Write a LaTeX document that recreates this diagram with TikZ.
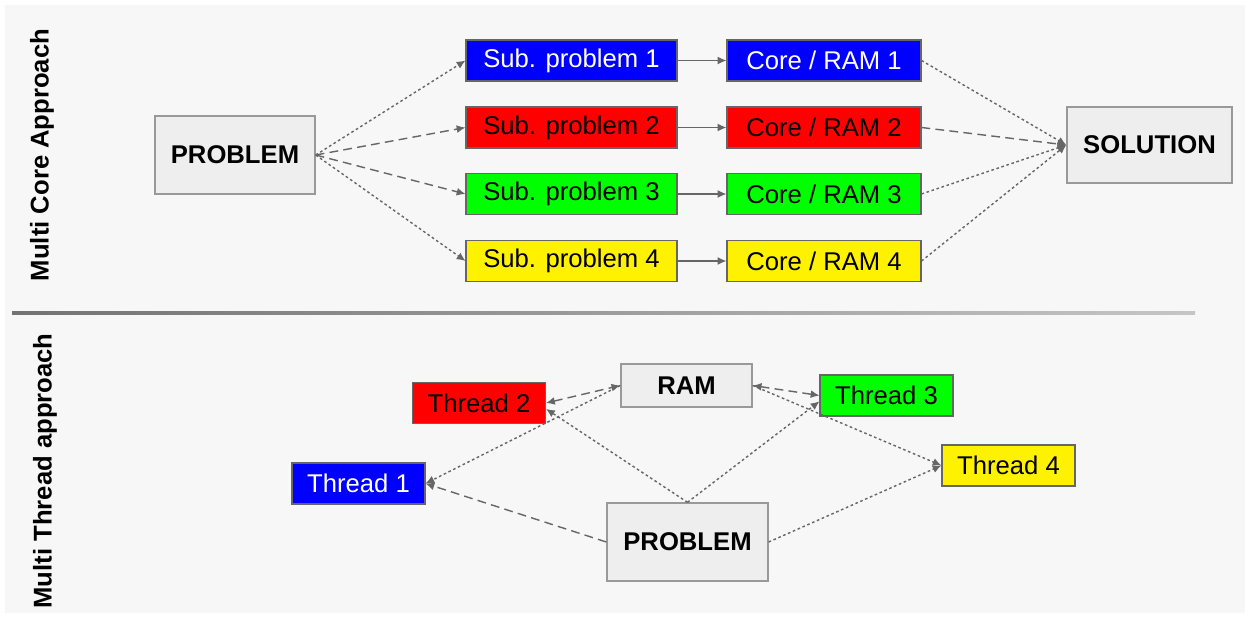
\documentclass[tikz,border=0pt]{standalone}
\usepackage{fontspec}
\setmainfont{Liberation Sans}
\usetikzlibrary{arrows.meta,positioning,shapes}

\definecolor{panelgray}{HTML}{F7F7F7}
\definecolor{boxgray}{HTML}{EEEEEE}
\definecolor{linegray}{HTML}{666666}

\begin{document}
\begin{tikzpicture}[x=0.02cm,y=-0.02cm,
  every node/.style={font=\fontsize{14.6}{17}\selectfont,inner sep=0pt},
  graybox/.style={rectangle,draw=gray!80,fill=boxgray,line width=0.8pt,font=\fontsize{14.6}{17}\selectfont\bfseries},
  colbox/.style={rectangle,draw=linegray,line width=0.6pt,minimum height=0.82cm},
  subbox/.style={colbox,minimum width=4.22cm},
  corebox/.style={colbox,minimum width=3.88cm},
  thrbox/.style={colbox,minimum width=2.66cm},
  link/.style={draw=linegray,line width=0.8pt,-{Latex[length=5pt,width=4.5pt]}},
  dotlink/.style={link,dash pattern=on 1.5pt off 1.5pt},
  dashlink/.style={link,dash pattern=on 5pt off 3pt}]
\useasboundingbox (0,0) rectangle (1245,618);
\fill[panelgray] (5,5) rectangle (1245,613);
\shade[left color=gray!90!black,right color=gray!45] (12,312) rectangle (1195,315);

% multi core part
\node[rotate=90,font=\fontsize{14.6}{17}\selectfont\bfseries] (lblcore) at (42,155) {Multi Core Approach};
\node[graybox,minimum width=3.2cm,minimum height=1.56cm] (prob) at (235,155) {PROBLEM};
\node[graybox,minimum width=3.3cm,minimum height=1.52cm] (sol) at (1149.5,145) {SOLUTION};

\node[subbox,fill=blue,text=white] (sub1) at (571.5,60.5) {Sub. problem 1};
\node[subbox,fill=red] (sub2) at (571.5,127.5) {Sub. problem 2};
\node[subbox,fill=green] (sub3) at (571.5,194) {Sub. problem 3};
\node[subbox,fill=yellow] (sub4) at (571.5,261) {Sub. problem 4};

\node[corebox,fill=blue,text=white] (core1) at (824,60.5) {Core / RAM 1};
\node[corebox,fill=red] (core2) at (824,127.5) {Core / RAM 2};
\node[corebox,fill=green] (core3) at (824,194) {Core / RAM 3};
\node[corebox,fill=yellow] (core4) at (824,261) {Core / RAM 4};

\foreach \i in {1,...,4}
  \draw[link] (sub\i) -- (core\i);
\draw[dotlink] (prob.east) -- (sub1.west);
\draw[dashlink] (prob.east) -- (sub2.west);
\draw[dashlink] (prob.east) -- (sub3.west);
\draw[dotlink] (prob.east) -- (sub4.west);
\draw[dotlink] (core1.east) -- (sol.west);
\draw[dashlink] (core2.east) -- (sol.west);
\draw[dotlink] (core3.east) -- (sol.west);
\draw[dotlink] (core4.east) -- (sol.west);

% multi thread part
\node[rotate=90,font=\fontsize{14.6}{17}\selectfont\bfseries] (lblthread) at (45,471) {Multi Thread approach};
\node[graybox,minimum width=2.62cm,minimum height=0.86cm] (ram) at (686.5,385.5) {RAM};
\node[graybox,minimum width=3.22cm,minimum height=1.56cm] (prob2) at (687.5,542) {PROBLEM};

\node[thrbox,fill=blue,text=white] (t1) at (358.5,483.5) {Thread 1};
\node[thrbox,fill=red] (t2) at (479,403) {Thread 2};
\node[thrbox,fill=green] (t3) at (886.5,395.5) {Thread 3};
\node[thrbox,fill=yellow] (t4) at (1008.5,465.5) {Thread 4};

\draw[dashlink,{Latex[length=5pt,width=4.5pt]}-{Latex[length=5pt,width=4.5pt]}] (t2.east) -- (ram.west);
\draw[dashlink,{Latex[length=5pt,width=4.5pt]}-{Latex[length=5pt,width=4.5pt]}] (ram.east) -- (t3.west);
\draw[dotlink] (ram.west) -- (t1.east);
\draw[dashlink] (prob2.west) -- (t1.east);
\draw[dotlink] (prob2.north) -- (t2.-5);
\draw[dotlink] (prob2.north) -- (t3.185);
\draw[dotlink] (ram.east) -- (t4.west);
\draw[dotlink] (prob2.east) -- (t4.west);
\end{tikzpicture}
\end{document}
